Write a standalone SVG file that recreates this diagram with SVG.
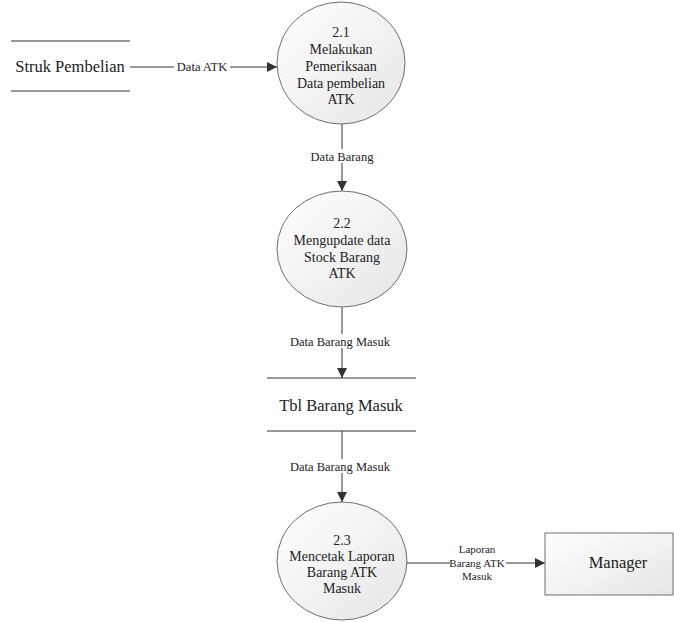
<svg xmlns="http://www.w3.org/2000/svg" width="674" height="622" viewBox="0 0 674 622" font-family="'Liberation Serif', serif">
<style>
text{font-family:'Liberation Serif','Times New Roman',serif;fill:#222;text-anchor:middle}
.p{font-size:14px}
.l{font-size:12.5px}
.s{font-size:11px}
.b{font-size:16.5px}
.shape{stroke:#6e6e6e;stroke-width:1;fill:url(#g)}
.line{stroke:#333;stroke-width:1;fill:none}
.conn{stroke:#333;stroke-width:1;fill:none;marker-end:url(#a)}
.lbg{fill:#fff}
</style>
<defs>
<linearGradient id="g" x1="0" y1="0" x2="1" y2="1">
<stop offset="0" stop-color="#ffffff"/>
<stop offset="1" stop-color="#e6e6e6"/>
</linearGradient>
<marker id="a" viewBox="0 0 10 10" refX="10" refY="5" markerWidth="10" markerHeight="10" markerUnits="userSpaceOnUse" orient="auto">
<path d="M0,0 L10,5 L0,10 z" fill="#333"/>
</marker>
</defs>
<rect width="674" height="622" fill="#fff"/>
<g id="connectors">
<line class="conn" x1="130" y1="67" x2="277" y2="67"/>
<rect class="lbg" x="174" y="59" width="56" height="14"/>
<text class="l" x="202" y="71">Data ATK</text>
<line class="conn" x1="342" y1="124" x2="342" y2="191"/>
<rect class="lbg" x="304" y="149" width="76" height="14"/>
<text class="l" x="342" y="161">Data Barang</text>
<line class="conn" x1="342" y1="307" x2="342" y2="378"/>
<rect class="lbg" x="290" y="334" width="104" height="14"/>
<text class="l" x="340" y="346">Data Barang Masuk</text>
<line class="conn" x1="342" y1="431" x2="342" y2="502"/>
<rect class="lbg" x="290" y="459" width="104" height="14"/>
<text class="l" x="340" y="471">Data Barang Masuk</text>
<line class="conn" x1="407" y1="563" x2="545" y2="563"/>
<rect class="lbg" x="450" y="544" width="56" height="38"/>
<text class="s" x="477" y="553">Laporan</text>
<text class="s" x="477" y="567">Barang ATK</text>
<text class="s" x="477" y="580">Masuk</text>
</g>
<g id="struk">
<line class="line" x1="11" y1="41" x2="130" y2="41"/>
<line class="line" x1="11" y1="91" x2="130" y2="91"/>
<text class="b" x="70" y="72">Struk Pembelian</text>
</g>
<g id="p21">
<ellipse class="shape" cx="341" cy="63" rx="64" ry="61"/>
<text class="p" x="341" y="37">2.1</text>
<text class="p" x="341" y="54">Melakukan</text>
<text class="p" x="341" y="71">Pemeriksaan</text>
<text class="p" x="341" y="87.5">Data pembelian</text>
<text class="p" x="341" y="104">ATK</text>
</g>
<g id="p22">
<ellipse class="shape" cx="342" cy="249" rx="65" ry="58"/>
<text class="p" x="342" y="228">2.2</text>
<text class="p" x="342" y="245">Mengupdate data</text>
<text class="p" x="342" y="261.5">Stock Barang</text>
<text class="p" x="342" y="278">ATK</text>
</g>
<g id="store">
<line class="line" x1="267" y1="378" x2="416" y2="378"/>
<line class="line" x1="267" y1="431" x2="416" y2="431"/>
<text class="b" x="341" y="411">Tbl Barang Masuk</text>
</g>
<g id="p23">
<ellipse class="shape" cx="342" cy="561" rx="65" ry="59"/>
<text class="p" x="342" y="545">2.3</text>
<text class="p" x="342" y="561">Mencetak Laporan</text>
<text class="p" x="342" y="577">Barang ATK</text>
<text class="p" x="342" y="593">Masuk</text>
</g>
<g id="manager">
<rect class="shape" x="545" y="533" width="128" height="62"/>
<text class="b" x="618" y="568">Manager</text>
</g>
</svg>
